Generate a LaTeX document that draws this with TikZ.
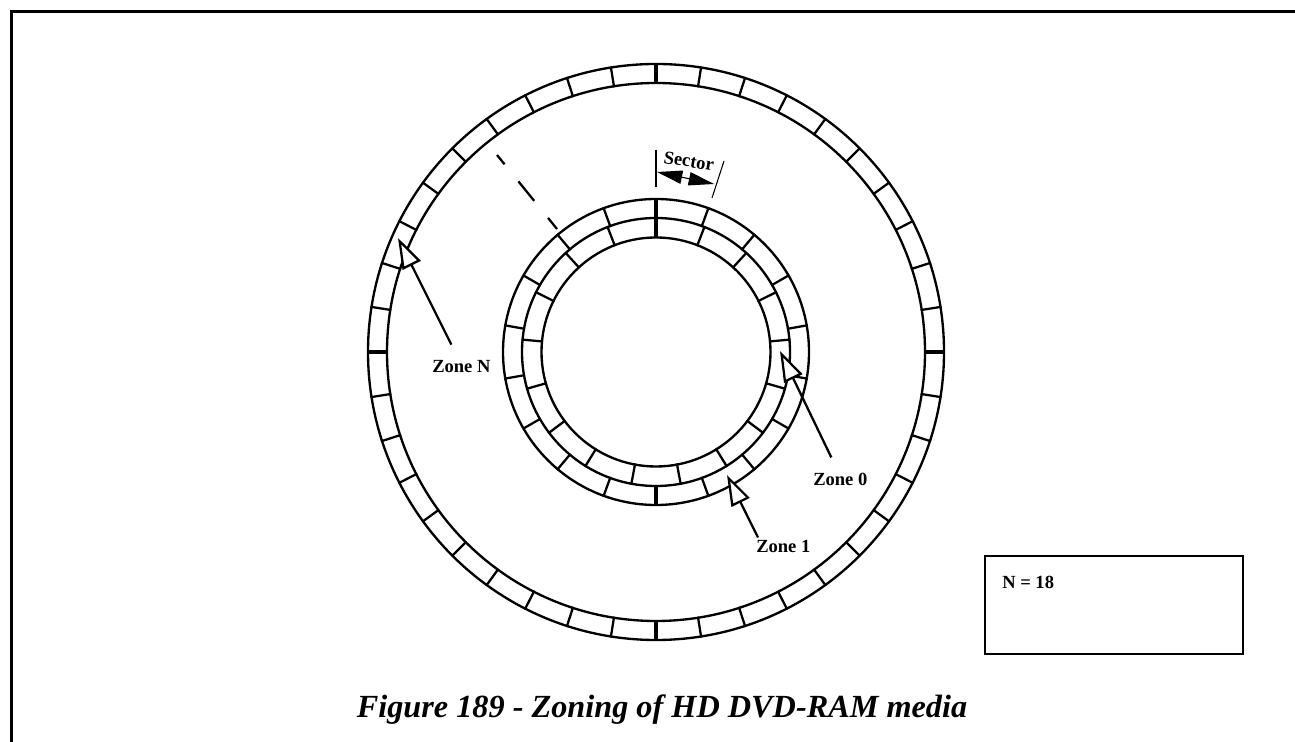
\documentclass[tikz,border=0pt]{standalone}
\usepackage{fontspec}
\setmainfont{Liberation Serif}
\usetikzlibrary{arrows.meta,calc}
\tikzset{
    ring/.style={line width=1.75pt},
    sectortick/.style={line width=1.7pt},
    boldtick/.style={line width=2.4pt},
    framerule/.style={line width=2.25pt},
    zonelabel/.style={inner sep=0pt, anchor=base west, font=\fontsize{13.9}{16}\selectfont\bfseries},
    zonearrow/.style={line width=1.7pt, -{Triangle[length=23pt, width=15pt, fill=white, line width=1.7pt]}},
    notebox/.style={draw, line width=1.6pt, minimum width=193.5pt, minimum height=73.5pt, inner sep=0pt},
    sectorarrow/.style={line width=0.8pt, {Triangle[length=19pt, width=10pt]}-{Triangle[length=19pt, width=10pt]}}
}

\begin{document}
\begin{tikzpicture}[x=0.75pt, y=0.75pt]
\useasboundingbox (0,0) rectangle (1295,742);

% page frame
\draw[framerule] (11.5,0) -- (11.5,730.5) -- (1295,730.5);

% rings
\begin{scope}[shift={(656,390)}]
\foreach \rad in {288,269,153,134,114.5}
    \draw[ring] (0,0) circle (\rad);
% outer zone
\foreach \k in {1,...,39}
    \draw[sectortick] (90+9*\k:268) -- (90+9*\k:289);
\foreach \ang in {0,90,180,270}
    \draw[boldtick] (\ang:269) -- (\ang:288);
% middle zone
\foreach \k in {1,...,17}
    \draw[sectortick] (90+20*\k:133) -- (90+20*\k:154);
\foreach \ang in {90,270}
    \draw[boldtick] (\ang:134) -- (\ang:153);
% inner zone
\foreach \k in {1,...,16}
    \draw[sectortick] (90+360/17*\k:113.5) -- (90+360/17*\k:135);
\draw[boldtick] (90:114.5) -- (90:134);
\end{scope}

% dashes between the zones
\draw[line width=1.7pt, dash pattern=on 18.75pt off 16.5pt, dash phase=9.75pt] (497,587) -- (557,513);

% sector mark
\draw[line width=1.3pt] (656,592) -- (656,555);
\draw[line width=0.8pt] (724,581) -- (712,544);
\coordinate (sectorA) at (657,570);
\coordinate (sectorB) at (714,558);
\draw[sectorarrow] (sectorA) -- (sectorB);
\node[inner sep=0pt, rotate=-9, font=\fontsize{13.9}{16}\selectfont\bfseries] (sector) at (689,581) {Sector};

% zones
\node[zonelabel] (zone0) at (813,256) {Zone 0};
\node[zonelabel] (zone1) at (756,189) {Zone 1};
\node[zonelabel] (zoneN) at (432,369) {Zone N};
\coordinate (tip0) at (780,391);
\coordinate (tip1) at (727,267);
\coordinate (tipN) at (398,504);
\draw[zonearrow] ($(zone0.north)+(-9,16)$) -- (tip0);
\draw[zonearrow] ($(zone1.north west)+(2,3)$) -- (tip1);
\draw[zonearrow] ($(zoneN.north)+(-10,16)$) -- (tipN);

% note box
\node[notebox] (nbox) at (1114,137) {};
\node[zonelabel] (ncount) at (1002,153) {N = 18};

% caption
\node[inner sep=0pt, anchor=base, font=\fontsize{24.2}{28}\selectfont\bfseries\itshape] (caption) at (662,24) {Figure 189 - Zoning of HD DVD-RAM media};
\end{tikzpicture}
\end{document}
